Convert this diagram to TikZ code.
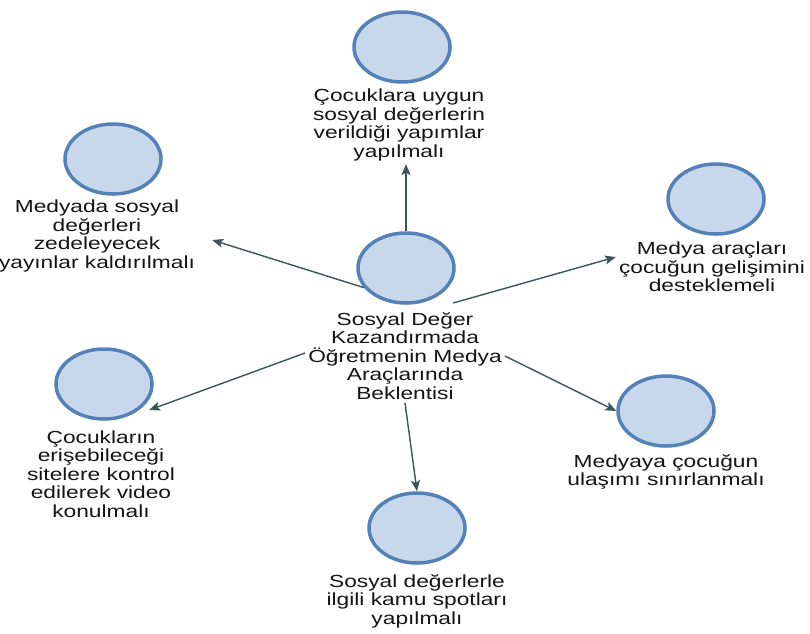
\documentclass[tikz,border=0pt]{standalone}
\usepackage{fontspec}
\setmainfont{Liberation Sans}[FakeStretch=1.3]
\usetikzlibrary{shapes.geometric, arrows.meta}

\definecolor{bubline}{RGB}{84,130,184}
\definecolor{bubfill}{RGB}{200,216,236}
\definecolor{connline}{RGB}{58,86,88}

\tikzset{
  bubble/.style={ellipse, draw=bubline, line width=3.5pt, fill=bubfill,
    minimum width=96pt, minimum height=70pt, inner sep=0pt},
  bubtext/.style={align=center, inner sep=3pt, text=black!92,
    font=\fontsize{17.5}{18.5}\selectfont},
  conn/.style={draw=connline, line width=1.4pt,
    -{Stealth[length=11pt,width=9pt,inset=2.5pt]}}
}

\begin{document}
\begin{tikzpicture}[x=1pt, y=-1pt]
  \useasboundingbox (0,0) rectangle (810,633);
  \node[bubble] (ctr) at (406,268) {};
  \node[bubtext] (ctr-txt) at (405,356) {Sosyal Değer\\Kazandırmada\\Öğretmenin Medya\\Araçlarında\\Beklentisi};
  \node[bubble] (top) at (402,47) {};
  \node[bubtext] (top-txt) at (399,125) {Çocuklara uygun\\sosyal değerlerin\\verildiği yapımlar\\yapılmalı};
  \node[bubble] (tl) at (113,159) {};
  \node[bubtext] (tl-txt) at (97,236) {Medyada sosyal\\değerleri\\zedeleyecek\\yayınlar kaldırılmalı};
  \node[bubble] (tr) at (716,199) {};
  \node[bubtext] (tr-txt) at (712,267) {Medya araçları\\çocuğun gelişimini\\desteklemeli};
  \node[bubble] (bl) at (104,384) {};
  \node[bubtext] (bl-txt) at (101,474) {Çocukların\\erişebileceği\\sitelere kontrol\\edilerek video\\konulmalı};
  \node[bubble] (br) at (666,411) {};
  \node[bubtext] (br-txt) at (666,472) {Medyaya çocuğun\\ulaşımı sınırlanmalı};
  \node[bubble] (bot) at (417,528) {};
  \node[bubtext] (bot-txt) at (417,601) {Sosyal değerlerle\\ilgili kamu spotları\\yapılmalı};

  \draw[conn] (ctr.north) -- (ctr.north |- top-txt.south);
  \draw[conn] (ctr.205) -- ([xshift=14pt,yshift=-4pt]tl-txt.east);
  \draw[conn] ([xshift=12pt,yshift=-9pt]ctr.south east) -- ([yshift=10pt]tr-txt.west);
  \draw[conn] ([yshift=3pt]ctr-txt.west) -- ([xshift=10pt]bl.south east);
  \draw[conn] (ctr-txt.east) -- (br.west);
  \draw[conn] (ctr-txt.south) -- (bot.north);
\end{tikzpicture}
\end{document}
